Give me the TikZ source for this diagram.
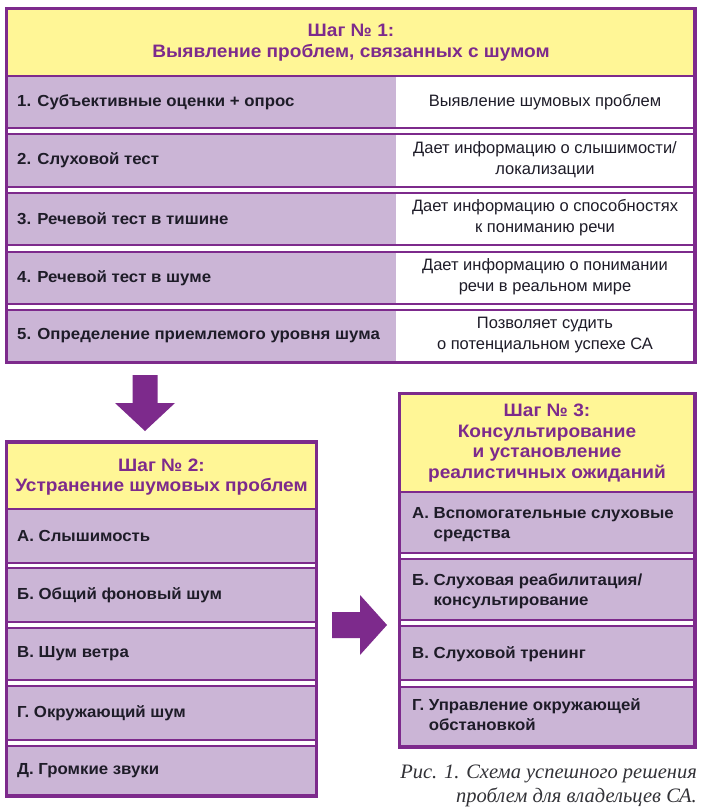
\documentclass[tikz,border=0pt]{standalone}
\usepackage{fontspec}
\setmainfont{Liberation Sans}
\newfontfamily\rowfont{Liberation Sans}[FakeStretch=1.05]
\newfontfamily\hdrfont{Liberation Sans}[FakeStretch=1.06]
\newfontfamily\capfont{Liberation Serif}
\definecolor{brd}{RGB}{125,42,140}
\definecolor{ylw}{RGB}{255,246,150}
\definecolor{lil}{RGB}{203,181,214}
\definecolor{ink}{RGB}{30,28,40}
\definecolor{capc}{RGB}{50,50,55}
\newcommand{\hitem}[3]{\begin{tabular}{@{}l@{\ }l@{}}#1&#2\\&#3\end{tabular}}
\begin{document}
\begin{tikzpicture}[x=1pt,y=-1pt,
  hdr/.style={font=\hdrfont\bfseries\fontsize{18}{20.7}\selectfont, text=brd, align=center, inner sep=0},
  lt/.style={font=\rowfont\bfseries\fontsize{16}{20}\selectfont, text=ink, anchor=west, align=left, inner sep=0},
  rt/.style={font=\fontsize{16.5}{21}\selectfont, text=ink, align=center, inner sep=0},
  rule/.style={draw=brd, line width=1.3pt},
  frame/.style={draw=brd, line width=3.5pt},
  blockarrow/.style={fill=brd}]
\fill[white] (0,0) rectangle (702,810);
\useasboundingbox (0,0) rectangle (702,810);

% ---------- Box 1 ----------
\fill[ylw] (6.5,8.75) rectangle (695,76);
\foreach \t/\b in {76/128,134/187,193/245,252/304,310/362.25}{
  \fill[lil] (6.5,\t) rectangle (396,\b);
}
\foreach \y in {76,128,134,187,193,245,252,304,310}{
  \draw[rule] (6.5,\y) -- (695,\y);
}
\draw[frame] (6.5,8.75) rectangle (695,362.25);

\node[hdr] (h1) at (351,43) {Шаг № 1:\\Выявление проблем, связанных с шумом};
\node[lt] (s1) at (17,102) {1. Субъективные оценки + опрос};
\node[lt] (s2) at (17,160.5) {2. Слуховой тест};
\node[lt] (s3) at (17,219) {3. Речевой тест в тишине};
\node[lt] (s4) at (17,278) {4. Речевой тест в шуме};
\node[lt] (s5) at (17,336) {5. Определение приемлемого уровня шума};
\node[rt] (d1) at (545,102) {Выявление шумовых проблем};
\node[rt] (d2) at (545,159.5) {Дает информацию о слышимости/\\локализации};
\node[rt] (d3) at (545,218) {Дает информацию о способностях\\к пониманию речи};
\node[rt] (d4) at (545,277) {Дает информацию о понимании\\речи в реальном мире};
\node[rt] (d5) at (545,335) {Позволяет судить\\о потенциальном успехе СА};

% ---------- down arrow ----------
\fill[blockarrow] (132.5,375) -- (157.5,375) -- (157.5,403) -- (175,403) -- (145,431)
  -- (115,403) -- (132.5,403) -- cycle;

% ---------- Box 2 ----------
\fill[ylw] (6.5,442) rectangle (316.5,509);
\foreach \t/\b in {509/563,568/622,628/680,686/740,746/796}{
  \fill[lil] (6.5,\t) rectangle (316.5,\b);
}
\foreach \y in {509,563,568,622,628,680,686,740,746}{
  \draw[rule] (6.5,\y) -- (316.5,\y);
}
\draw[frame] (6.5,442) rectangle (316.5,796);
\node[hdr] (h2) at (161.5,477) {Шаг № 2:\\Устранение шумовых проблем};
\node[lt] (a2) at (17,536) {А. Слышимость};
\node[lt] (b2) at (17,595) {Б. Общий фоновый шум};
\node[lt] (v2) at (17,654) {В. Шум ветра};
\node[lt] (g2) at (17,713) {Г. Окружающий шум};
\node[lt] (e2) at (17,771) {Д. Громкие звуки};

% ---------- right arrow ----------
\fill[blockarrow] (332,612) -- (360,612) -- (360,595) -- (387,625) -- (360,655)
  -- (360,638) -- (332,638) -- cycle;

% ---------- Box 3 ----------
\fill[ylw] (399.5,393.5) rectangle (695,492);
\foreach \t/\b in {492/553,559/620,626/680,687/747}{
  \fill[lil] (399.5,\t) rectangle (695,\b);
}
\foreach \y in {492,553,559,620,626,680,687}{
  \draw[rule] (399.5,\y) -- (695,\y);
}
\draw[frame] (399.5,393.5) rectangle (695,747);
\node[hdr] (h3) at (547,443) {Шаг № 3:\\Консультирование\\и установление\\реалистичных ожиданий};
\node[lt] (a3) at (412,524) {\hitem{А.}{Вспомогательные слуховые}{средства}};
\node[lt] (b3) at (412,591) {\hitem{Б.}{Слуховая реабилитация/}{консультирование}};
\node[lt] (v3) at (412,654) {В. Слуховой тренинг};
\node[lt] (g3) at (412,716) {\hitem{Г.}{Управление окружающей}{обстановкой}};

% ---------- caption ----------
\node[font=\capfont\itshape\fontsize{20.5}{24.5}\selectfont, text=capc, align=right,
  anchor=east, inner sep=0] (cap) at (697,786)
  {Рис. 1. Схема успешного решения\\проблем для владельцев СА.};
\end{tikzpicture}
\end{document}
